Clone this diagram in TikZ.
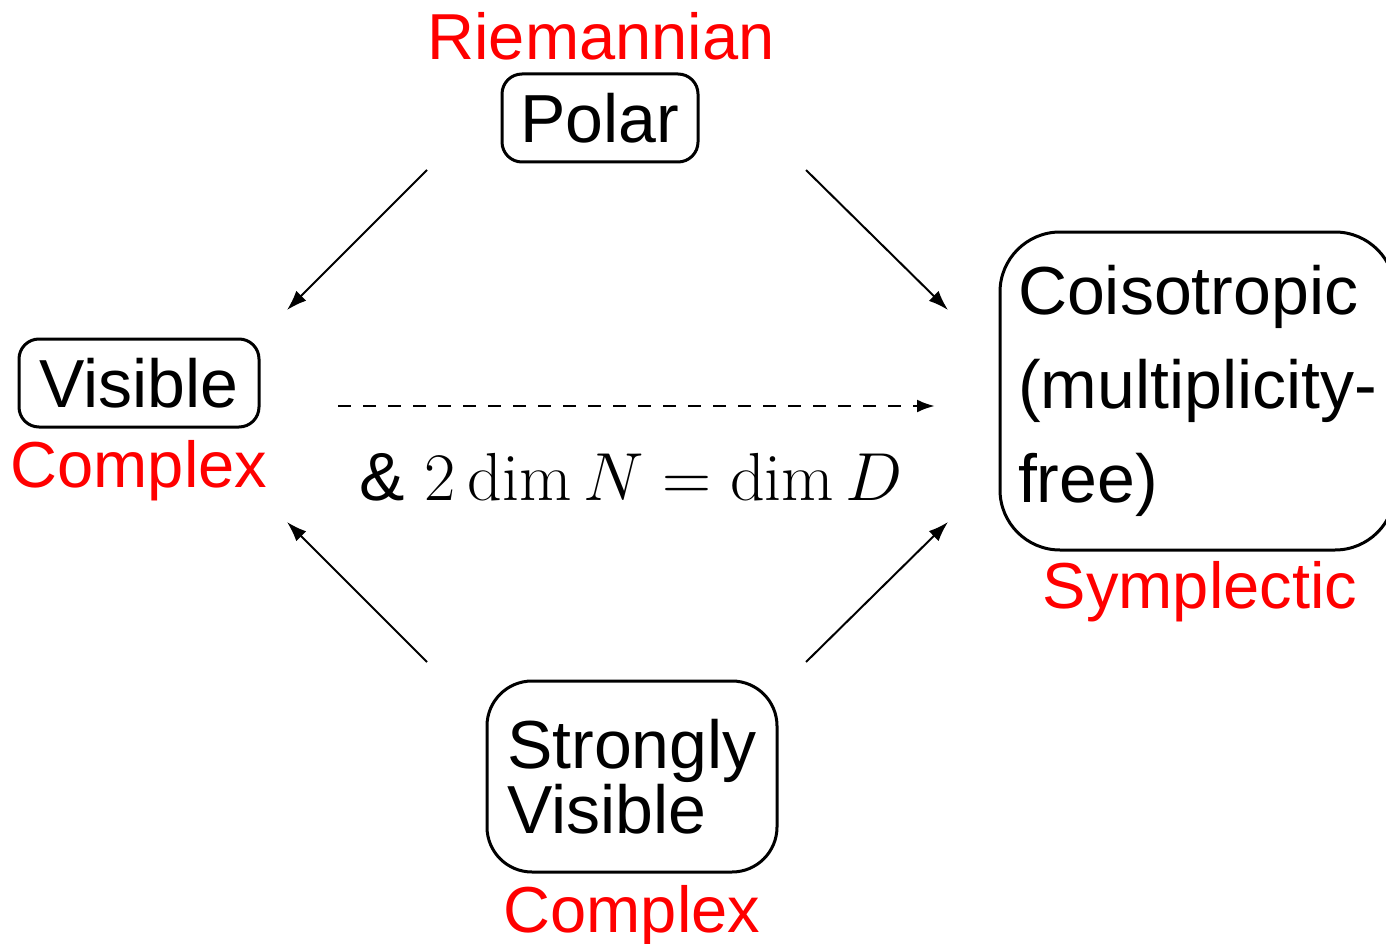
\documentclass[tikz,border=0pt]{standalone}
\usepackage{fix-cm}
\usepackage{fontspec}
\newfontfamily\arial{Liberation Sans}
\usetikzlibrary{arrows.meta}
\newcommand{\boxtext}{\arial\fontsize{68}{80}\selectfont}
\newcommand{\labtext}{\arial\fontsize{65}{76}\selectfont}
\begin{document}
\begin{tikzpicture}[x=1pt,y=-1pt,
  box/.style={draw, line width=3pt, rounded corners=#1, inner sep=0pt, font=\boxtext},
  lab/.style={text=red, font=\labtext, inner sep=0pt},
  conn/.style={line width=2pt, -{Latex[length=20pt,width=14pt]}},
]
\useasboundingbox (0,0) rectangle (1386,944);

% boxes
\node[box=20pt, minimum width=196pt, minimum height=88pt] (polar) at (600,118) {Polar};
\node[box=20pt, minimum width=240pt, minimum height=88pt] (visible) at (139,383) {Visible};
\node[box=60pt, minimum width=395pt, minimum height=318pt, align=left,
      font=\arial\fontsize{68}{94}\selectfont] (cois) at (1197.5,391)
      {Coisotropic\\(multiplicity-\\free)};
\node[box=45pt, minimum width=290pt, minimum height=191pt, align=left,
      font=\arial\fontsize{68}{60}\selectfont] (strong) at (632,776.5)
      {Strongly\\Visible};

% red labels
\node[lab, anchor=base] (riem) at (601,60) {Riemannian};
\node[lab, anchor=base] (cplx1) at (139,487) {Complex};
\node[lab, anchor=base] (sympl) at (1200,608) {Symplectic};
\node[lab, anchor=base] (cplx2) at (632,932) {Complex};

% condition under the dashed arrow
\node[anchor=base, inner sep=0pt, font=\fontsize{68}{80}\selectfont] (cond) at (631,500)
  {{\arial\&} $2\dim N=\dim D$};

% arrow end points
\coordinate (p1) at (427,170);  \coordinate (q1) at (287,310);
\coordinate (p2) at (806,170);  \coordinate (q2) at (948,310);
\coordinate (p3) at (427,662);  \coordinate (q3) at (287,522);
\coordinate (p4) at (806,662);  \coordinate (q4) at (948,522);
\coordinate (ds) at (338,406);  \coordinate (de) at (935,406);

\draw[conn] (p1) -- (q1);
\draw[conn] (p2) -- (q2);
\draw[conn] (p3) -- (q3);
\draw[conn] (p4) -- (q4);
\draw[line width=2.8pt, -{Latex[length=18pt,width=13pt]}, dash pattern=on 13pt off 12pt] (ds) -- (de);
\end{tikzpicture}
\end{document}
